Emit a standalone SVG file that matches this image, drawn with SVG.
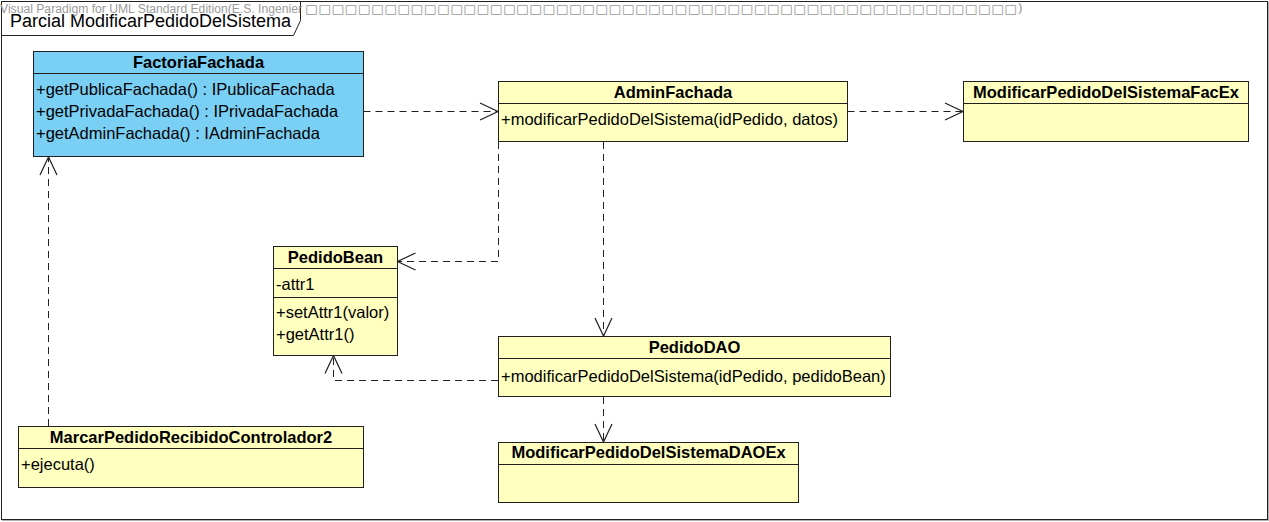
<svg xmlns="http://www.w3.org/2000/svg" width="1269" height="522" viewBox="0 0 1269 522">
<style>
text{font-family:"Liberation Sans",Arial,sans-serif;fill:#000}
.t{font-size:16.5px;font-weight:bold;text-anchor:middle}
.m{font-size:16.5px}
.y{fill:#ffffc0;stroke:#202020;stroke-width:1}
.b{fill:#7acff5;stroke:#202020;stroke-width:1}
.d{stroke:#202020;stroke-width:1}
.c{fill:none;stroke:#202020;stroke-width:1;stroke-dasharray:7,5}
.wm{font-size:12px;fill:#9a9a9a}
</style>
<defs>
<marker id="arr" markerUnits="userSpaceOnUse" markerWidth="22" markerHeight="22" viewBox="0 0 22 22" refX="20" refY="11" orient="auto" overflow="visible">
<path d="M2,2.5 L20,11 L2,19.5" fill="none" stroke="#202020" stroke-width="1.2" stroke-dasharray="none"/>
</marker>
</defs>
<rect x="0" y="0" width="1269" height="522" fill="#fff"/>
<g id="frame">
<rect x="1.5" y="1.5" width="1266" height="518" fill="#fff" stroke="#202020"/>
<path d="M1268.5,2 V520.5 H2" fill="none" stroke="#b0b0b0"/>
<path d="M1.5,35.5 H293.5 L300.5,20.5 V1.5" fill="none" stroke="#202020"/>
<text x="10" y="27" style="font-size:18px">Parcial ModificarPedidoDelSistema</text>
<text x="0" y="13" class="wm" textLength="302" lengthAdjust="spacingAndGlyphs">Visual Paradigm for UML Standard Edition(E.S. Ingenier</text>
<text x="305" y="13" class="wm" style="font-family:'DejaVu Sans',sans-serif" textLength="718" lengthAdjust="spacingAndGlyphs">□□□□□□□□□□□□□□□□□□□□□□□□□□□□□□□□□□□□□□□□□□□□□□□□□□□□□□)</text>
</g>
<g id="connectors">
<path class="c" d="M363.5,111.5 H498" marker-end="url(#arr)"/>
<path class="c" d="M847.5,111.5 H963" marker-end="url(#arr)"/>
<path class="c" d="M498.5,142 V261.5 H397.5" marker-end="url(#arr)"/>
<path class="c" d="M603.5,142 V336" marker-end="url(#arr)"/>
<path class="c" d="M498,380.5 H333.5 V355.5" marker-end="url(#arr)"/>
<path class="c" d="M603.5,397 V442" marker-end="url(#arr)"/>
<path class="c" d="M48.5,426 V157" marker-end="url(#arr)"/>
</g>
<g id="FactoriaFachada">
<rect class="b" x="33.5" y="51.5" width="330" height="105"/>
<line class="d" x1="33.5" y1="73.5" x2="363.5" y2="73.5"/>
<text class="t" x="198.5" y="68">FactoriaFachada</text>
<text class="m" x="36" y="95">+getPublicaFachada() : IPublicaFachada</text>
<text class="m" x="36" y="117">+getPrivadaFachada() : IPrivadaFachada</text>
<text class="m" x="36" y="139">+getAdminFachada() : IAdminFachada</text>
</g>
<g id="AdminFachada">
<rect class="y" x="498.5" y="81.5" width="349" height="60"/>
<line class="d" x1="498.5" y1="103.5" x2="847.5" y2="103.5"/>
<text class="t" x="673" y="98">AdminFachada</text>
<text class="m" x="501" y="125">+modificarPedidoDelSistema(idPedido, datos)</text>
</g>
<g id="ModificarPedidoDelSistemaFacEx">
<rect class="y" x="963.5" y="81.5" width="285" height="60"/>
<line class="d" x1="963.5" y1="103.5" x2="1248.5" y2="103.5"/>
<text class="t" x="1106" y="98">ModificarPedidoDelSistemaFacEx</text>
</g>
<g id="PedidoBean">
<rect class="y" x="273.5" y="246.5" width="124" height="109"/>
<line class="d" x1="273.5" y1="268.5" x2="397.5" y2="268.5"/>
<line class="d" x1="273.5" y1="297.5" x2="397.5" y2="297.5"/>
<text class="t" x="335.5" y="263">PedidoBean</text>
<text class="m" x="276" y="290">-attr1</text>
<text class="m" x="276" y="318">+setAttr1(valor)</text>
<text class="m" x="276" y="340">+getAttr1()</text>
</g>
<g id="PedidoDAO">
<rect class="y" x="498.5" y="336.5" width="392" height="60"/>
<line class="d" x1="498.5" y1="358.5" x2="890.5" y2="358.5"/>
<text class="t" x="694.5" y="353">PedidoDAO</text>
<text class="m" x="501" y="382">+modificarPedidoDelSistema(idPedido, pedidoBean)</text>
</g>
<g id="ModificarPedidoDelSistemaDAOEx">
<rect class="y" x="498.5" y="442.5" width="300" height="60"/>
<line class="d" x1="498.5" y1="464.5" x2="798.5" y2="464.5"/>
<text class="t" x="648.5" y="458">ModificarPedidoDelSistemaDAOEx</text>
</g>
<g id="MarcarPedidoRecibidoControlador2">
<rect class="y" x="18.5" y="426.5" width="345" height="61"/>
<line class="d" x1="18.5" y1="448.5" x2="363.5" y2="448.5"/>
<text class="t" x="191" y="443">MarcarPedidoRecibidoControlador2</text>
<text class="m" x="21" y="470">+ejecuta()</text>
</g>
</svg>
